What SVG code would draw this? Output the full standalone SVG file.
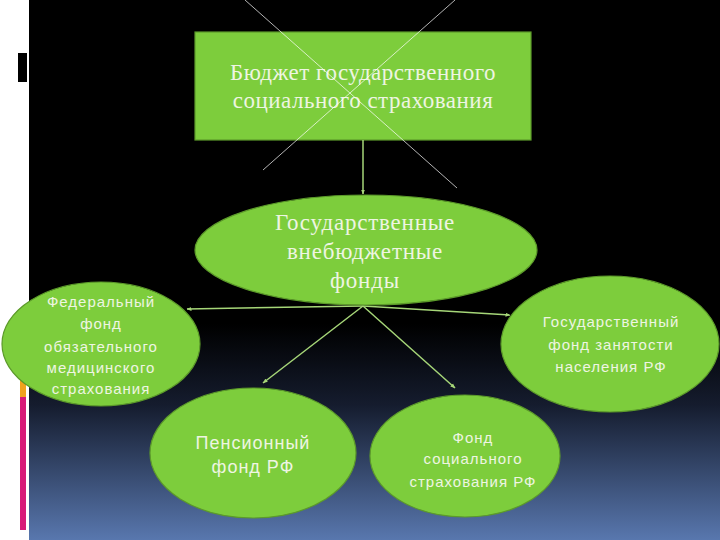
<svg xmlns="http://www.w3.org/2000/svg" width="720" height="540" viewBox="0 0 720 540">
<defs>
<linearGradient id="bg" x1="0" y1="0" x2="0" y2="540" gradientUnits="userSpaceOnUse">
<stop offset="0" stop-color="#000000"/>
<stop offset="0.6" stop-color="#000000"/>
<stop offset="0.75" stop-color="#151c2e"/>
<stop offset="1" stop-color="#5877ae"/>
</linearGradient>
<marker id="arr" viewBox="0 0 10 10" refX="9" refY="5" markerWidth="5" markerHeight="5" orient="auto" markerUnits="userSpaceOnUse">
<path d="M0,1 L10,5 L0,9 z" fill="#a6d678"/>
</marker>
<style>
.node{fill:#7dcd3c;stroke:#5c9a2a;stroke-width:1.2}
.serif{font-family:"Liberation Serif","Times New Roman",serif;fill:#eef5e2;text-anchor:middle}
.sans{font-family:"Liberation Sans",Arial,sans-serif;fill:#eef5e2;text-anchor:middle;letter-spacing:1px}
.conn{stroke:#a6d678;stroke-width:1.5;fill:none}
.cross{stroke:#ffffff;stroke-opacity:0.7;stroke-width:1}
</style>
</defs>
<rect x="0" y="0" width="720" height="540" fill="#ffffff"/>
<rect x="29" y="0" width="691" height="540" fill="url(#bg)"/>
<rect x="17.5" y="52.5" width="10" height="30" fill="#000" stroke="#fff" stroke-width="1"/>
<rect x="20" y="360" width="6" height="37" fill="#f0a21e"/>
<rect x="20" y="397" width="6" height="133" fill="#d81a78"/>

<g id="n-budget">
<rect class="node" x="195" y="32" width="336" height="108"/>
<text class="serif" font-size="23" letter-spacing="0.5"><tspan x="363" y="80">Бюджет государственного</tspan><tspan x="363" y="108">социального страхования</tspan></text>
</g>

<g id="cross">
<line class="cross" x1="245" y1="0" x2="457" y2="188"/>
<line class="cross" x1="455" y1="0" x2="263" y2="170"/>
</g>

<g id="connectors">
<line class="conn" x1="363" y1="140" x2="363" y2="194" marker-end="url(#arr)"/>
<line class="conn" x1="363" y1="306" x2="187" y2="309" marker-end="url(#arr)"/>
<line class="conn" x1="363" y1="306" x2="510" y2="315" marker-end="url(#arr)"/>
<line class="conn" x1="363" y1="306" x2="263" y2="383" marker-end="url(#arr)"/>
<line class="conn" x1="363" y1="306" x2="455" y2="388" marker-end="url(#arr)"/>
</g>

<g id="n-funds">
<ellipse class="node" cx="366" cy="250" rx="171" ry="55"/>
<text class="serif" font-size="23" letter-spacing="0.8"><tspan x="365" y="230">Государственные</tspan><tspan x="365" y="259">внебюджетные</tspan><tspan x="365" y="288">фонды</tspan></text>
</g>

<g id="n-ffoms">
<ellipse class="node" cx="101" cy="344" rx="99" ry="62"/>
<text class="sans" font-size="15"><tspan x="101" y="307">Федеральный</tspan><tspan x="101" y="329">фонд</tspan><tspan x="101" y="352">обязательного</tspan><tspan x="101" y="373">медицинского</tspan><tspan x="101" y="394">страхования</tspan></text>
</g>

<g id="n-employment">
<ellipse class="node" cx="610" cy="344" rx="109" ry="68"/>
<text class="sans" font-size="15"><tspan x="611" y="327">Государственный</tspan><tspan x="611" y="350">фонд занятости</tspan><tspan x="611" y="372">населения РФ</tspan></text>
</g>

<g id="n-pension">
<ellipse class="node" cx="253" cy="453" rx="103" ry="65"/>
<text class="sans" font-size="18" letter-spacing="0.4"><tspan x="253" y="449">Пенсионный</tspan><tspan x="253" y="473">фонд РФ</tspan></text>
</g>

<g id="n-social">
<ellipse class="node" cx="465" cy="456" rx="95" ry="61"/>
<text class="sans" font-size="15"><tspan x="473" y="443">Фонд</tspan><tspan x="473" y="464">социального</tspan><tspan x="473" y="487">страхования РФ</tspan></text>
</g>
</svg>
